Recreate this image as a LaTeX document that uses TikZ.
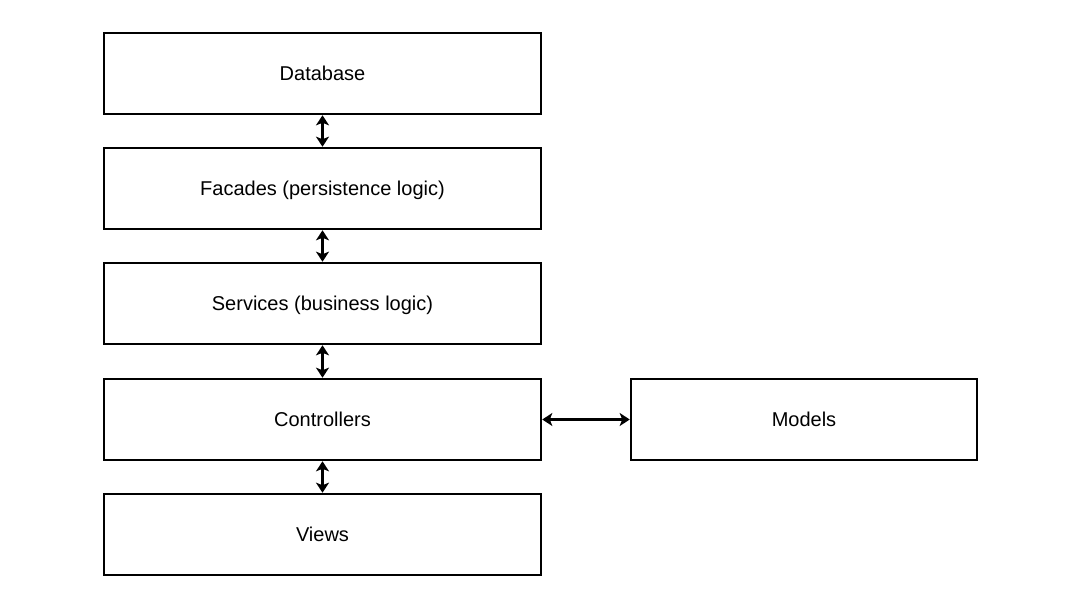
\documentclass[tikz,border=0pt]{standalone}
\usepackage{fontspec}
\setmainfont{Liberation Sans}
\usetikzlibrary{arrows.meta}
\begin{document}
\begin{tikzpicture}[x=1pt,y=-1pt,
  layer/.style={draw=black,line width=2.6pt,minimum width=437pt,minimum height=81pt,inner sep=0pt,font=\fontsize{20}{24}\selectfont,text depth=1pt},
  link/.style={line width=2.4pt,{Stealth[length=10pt,width=13pt,inset=2.5pt]}-{Stealth[length=10pt,width=13pt,inset=2.5pt]}}]
\useasboundingbox (0,0) rectangle (1080,608);
\node[layer] (db) at (322.5,73.5) {Database};
\node[layer] (fa) at (322.5,188.5) {Facades (persistence logic)};
\node[layer] (se) at (322.5,303.5) {Services (business logic)};
\node[layer] (co) at (322.5,419.5) {Controllers};
\node[layer] (vi) at (322.5,534.5) {Views};
\node[layer,minimum width=346pt] (mo) at (804,419.5) {Models};
\draw[link] (db.south) -- (fa.north);
\draw[link] (fa.south) -- (se.north);
\draw[link] (se.south) -- (co.north);
\draw[link] (co.south) -- (vi.north);
\draw[link] (co.east) -- (mo.west);
\end{tikzpicture}
\end{document}
